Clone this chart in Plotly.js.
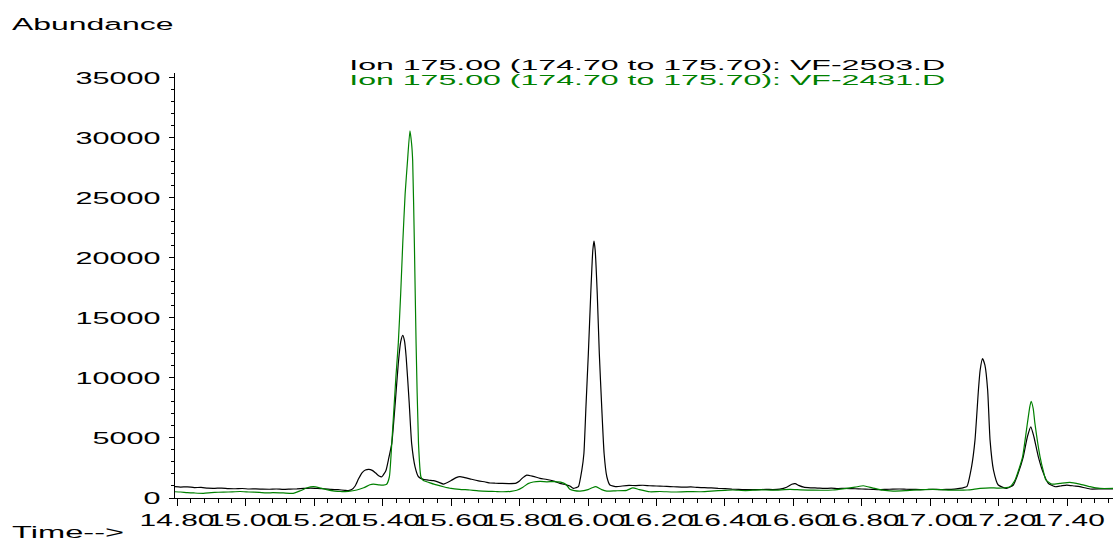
<!DOCTYPE html>
<html>
<head>
<meta charset="utf-8">
<script src="https://cdn.plot.ly/plotly-3.0.1.min.js"></script>
<style>
  html, body { margin: 0; padding: 0; background: #ffffff; }
  #chart { width: 1113px; height: 541px; }
</style>
</head>
<body>
<div id="chart"></div>
<script>
// Extracted ion chromatograms, m/z 175.00 (174.70 to 175.70)
const seriesNames = [
  'Ion 175.00 (174.70 to 175.70): VF-2503.D',
  'Ion 175.00 (174.70 to 175.70): VF-2431.D'
];

// VF-2503.D (black trace): retention time (min) and abundance
const timeBlack = [
  14.794, 14.81, 14.83, 14.85, 14.87, 14.89, 14.91, 14.93, 14.95, 14.97, 14.99,
  15.01, 15.03, 15.05, 15.07, 15.09, 15.11, 15.13, 15.15, 15.17, 15.19, 15.21,
  15.23, 15.25, 15.27, 15.29, 15.30, 15.31, 15.32, 15.33, 15.34, 15.35, 15.36,
  15.37, 15.38, 15.39, 15.398, 15.41, 15.417, 15.427, 15.437, 15.446, 15.453,
  15.459, 15.464, 15.469, 15.478, 15.485, 15.495, 15.505, 15.519, 15.535, 15.549,
  15.565, 15.578, 15.60, 15.615, 15.626, 15.64, 15.66, 15.68, 15.70, 15.714,
  15.73, 15.75, 15.77, 15.79, 15.80, 15.81, 15.821, 15.84, 15.86, 15.88, 15.90,
  15.918, 15.935, 15.947, 15.957, 15.965, 15.972, 15.982, 15.988, 15.994, 16.001,
  16.008, 16.014, 16.0175, 16.021, 16.027, 16.033, 16.040, 16.047, 16.055, 16.064,
  16.084, 16.10, 16.12, 16.14, 16.16, 16.18, 16.20, 16.22, 16.24, 16.26, 16.28,
  16.30, 16.32, 16.34, 16.36, 16.38, 16.40, 16.42, 16.44, 16.46, 16.48, 16.50,
  16.52, 16.54, 16.56, 16.58, 16.595, 16.605, 16.615, 16.63, 16.65, 16.67, 16.69,
  16.71, 16.73, 16.75, 16.77, 16.79, 16.81, 16.83, 16.85, 16.87, 16.89, 16.91,
  16.93, 16.95, 16.97, 16.99, 17.01, 17.03, 17.05, 17.07, 17.085, 17.095, 17.106,
  17.120, 17.130, 17.140, 17.145, 17.152, 17.159, 17.167, 17.174, 17.184, 17.198,
  17.222, 17.242, 17.256, 17.271, 17.283, 17.293, 17.302, 17.315, 17.330, 17.344,
  17.364, 17.38, 17.398, 17.42, 17.436, 17.466, 17.50, 17.533
];
const abundBlack = [
  950, 910, 930, 870, 880, 820, 810, 830, 780, 770, 790,
  750, 760, 740, 730, 750, 720, 740, 760, 800, 830, 790,
  770, 720, 690, 640, 620, 700, 1000, 1600, 2100, 2330, 2390,
  2300, 2080, 1830, 1770, 2300, 3160, 4550, 7870, 11200, 13000,
  13550, 13100, 11750, 7870, 4550, 2600, 1770, 1550, 1480, 1440,
  1300, 1160, 1450, 1700, 1780, 1700, 1560, 1430, 1330, 1250,
  1230, 1210, 1200, 1240, 1420, 1700, 1910, 1800, 1640, 1540, 1400,
  1220, 1100, 1000, 800, 860, 940, 2330, 3710, 7590, 12030,
  17020, 20620, 21390, 20620, 17020, 12030, 7590, 3710, 1770, 1080,
  940, 1000, 1050, 1030, 1060, 1020, 1000, 980, 950, 920, 900,
  920, 880, 860, 840, 800, 780, 740, 720, 700, 690, 700,
  720, 700, 740, 900, 1150, 1200, 1050, 900, 850, 830, 800,
  820, 790, 800, 780, 760, 740, 720, 700, 720, 740, 750,
  730, 720, 700, 710, 720, 700, 720, 740, 800, 850, 940,
  2600, 4820, 8980, 10640, 11610, 11060, 8980, 4820, 2330, 1080,
  800, 1080, 2050, 3430, 5100, 5930, 5100, 3430, 2050, 1220,
  940, 1000, 1080, 1000, 940, 750, 760, 750
];

// VF-2431.D (green trace): retention time (min) and abundance
const timeGreen = [
  14.794, 14.81, 14.83, 14.85, 14.877, 14.90, 14.92, 14.95, 14.984, 15.01, 15.04,
  15.06, 15.08, 15.11, 15.139, 15.16, 15.18, 15.198, 15.22, 15.237, 15.26, 15.276,
  15.30, 15.325, 15.345, 15.363, 15.373, 15.39, 15.402, 15.412, 15.420, 15.427,
  15.439, 15.446, 15.453, 15.459, 15.466, 15.473, 15.480, 15.485, 15.488, 15.493,
  15.498, 15.505, 15.512, 15.519, 15.535, 15.55, 15.578, 15.60, 15.625, 15.655,
  15.68, 15.71, 15.73, 15.752, 15.775, 15.792, 15.81, 15.825, 15.84, 15.86, 15.88,
  15.90, 15.92, 15.935, 15.947, 15.96, 15.977, 16.00, 16.012, 16.023, 16.04, 16.055,
  16.08, 16.113, 16.131, 16.15, 16.181, 16.21, 16.25, 16.29, 16.327, 16.36, 16.40,
  16.423, 16.46, 16.50, 16.54, 16.59, 16.62, 16.66, 16.715, 16.75, 16.78, 16.804,
  16.83, 16.86, 16.891, 16.93, 16.97, 17.007, 17.04, 17.07, 17.107, 17.145, 17.174,
  17.20, 17.232, 17.247, 17.259, 17.269, 17.283, 17.290, 17.294, 17.300, 17.305,
  17.320, 17.330, 17.337, 17.354, 17.378, 17.407, 17.436, 17.466, 17.495, 17.533
];
const abundGreen = [
  520, 500, 450, 420, 390, 450, 480, 500, 540, 500, 470,
  430, 440, 420, 390, 600, 850, 940, 820, 700, 580, 540,
  560, 665, 850, 1100, 1160, 1100, 1080, 1150, 1770, 4550,
  10080, 12860, 17020, 21170, 25330, 28100, 30590, 29480, 28100, 21170,
  12860, 4550, 1770, 1450, 1300, 1150, 940, 800, 720, 665,
  600, 560, 540, 520, 560, 650, 900, 1200, 1330, 1380, 1350,
  1370, 1320, 1150, 720, 620, 580, 700, 850, 940, 700, 580,
  600, 640, 850, 700, 520, 540, 500, 530, 520, 580, 640,
  665, 620, 680, 650, 720, 680, 650, 665, 780, 900, 1020,
  850, 650, 580, 620, 680, 720, 680, 650, 665, 800, 850,
  820, 940, 1500, 2470, 3430, 6210, 7590, 8060, 7450, 6210,
  3430, 2190, 1500, 1160, 1220, 1300, 1160, 940, 800, 800
];

// Axis ticks
const xTickValues = [14.8, 15.0, 15.2, 15.4, 15.6, 15.8, 16.0, 16.2, 16.4, 16.6, 16.8, 17.0, 17.2, 17.4];
const xTickLabels = ['14.80', '15.00', '15.20', '15.40', '15.60', '15.80', '16.00', '16.20', '16.40', '16.60', '16.80', '17.00', '17.20', '17.40'];
const yTickValues = [0, 5000, 10000, 15000, 20000, 25000, 30000, 35000];
const yTickLabels = ['0', '5000', '10000', '15000', '20000', '25000', '30000', '35000'];

const BLACK = '#000000';
const GREEN = '#008000';
const FONT = 'Liberation Sans, Arial, Helvetica, sans-serif';

const traces = [
  {
    x: timeBlack, y: abundBlack, name: seriesNames[0],
    type: 'scatter', mode: 'lines',
    line: { color: BLACK, width: 1.2, shape: 'spline', smoothing: 0.5 }
  },
  {
    x: timeGreen, y: abundGreen, name: seriesNames[1],
    type: 'scatter', mode: 'lines',
    line: { color: GREEN, width: 1.2, shape: 'spline', smoothing: 0.5 }
  }
];

const layout = {
  width: 1113,
  height: 541,
  margin: { l: 175, r: 0, t: 73, b: 43, pad: 0 },
  paper_bgcolor: '#ffffff',
  plot_bgcolor: '#ffffff',
  showlegend: false,
  font: { family: FONT, size: 17, color: BLACK },
  xaxis: {
    range: [14.794, 17.533],
    tickmode: 'array',
    tickvals: xTickValues,
    ticktext: xTickLabels,
    tickangle: 0,
    ticks: 'outside',
    ticklen: 7,
    tickwidth: 1,
    tickcolor: BLACK,
    tickfont: { family: FONT, size: 17, color: BLACK },
    minor: { dtick: 0.04, tick0: 14.8, ticks: 'outside', ticklen: 4, tickwidth: 1, tickcolor: BLACK, showgrid: false },
    showline: true,
    linecolor: BLACK,
    linewidth: 1,
    showgrid: false,
    zeroline: false,
    automargin: false
  },
  yaxis: {
    range: [0, 35400],
    tickmode: 'array',
    tickvals: yTickValues,
    ticktext: yTickLabels,
    ticks: 'outside',
    ticklen: 5,
    tickwidth: 1,
    tickcolor: BLACK,
    ticklabelstandoff: 5,
    tickfont: { family: FONT, size: 17, color: BLACK },
    minor: { dtick: 1000, tick0: 0, ticks: 'outside', ticklen: 3, tickwidth: 1, tickcolor: BLACK, showgrid: false },
    showline: true,
    linecolor: BLACK,
    linewidth: 1,
    showgrid: false,
    zeroline: false,
    automargin: false
  },
  annotations: [
    {
      text: 'Abundance', xref: 'paper', yref: 'paper',
      x: -0.176, y: 1.114, xanchor: 'left', yanchor: 'middle', align: 'left',
      showarrow: false, font: { family: FONT, size: 17, color: BLACK }
    },
    {
      text: 'Time-->', xref: 'paper', yref: 'paper',
      x: -0.176, y: -0.081, xanchor: 'left', yanchor: 'middle', align: 'left',
      showarrow: false, font: { family: FONT, size: 17, color: BLACK }
    },
    {
      text: seriesNames[0], xref: 'paper', yref: 'paper',
      x: 0.5032, y: 1.020, xanchor: 'center', yanchor: 'middle', align: 'center',
      showarrow: false, font: { family: FONT, size: 15, color: BLACK }
    },
    {
      text: seriesNames[1], xref: 'paper', yref: 'paper',
      x: 0.5032, y: 0.985, xanchor: 'center', yanchor: 'middle', align: 'center',
      showarrow: false, font: { family: FONT, size: 15, color: GREEN }
    }
  ]
};

// Horizontal widening of the lettering (wide instrument-report typeface)
const annotationStretch = [1.88, 1.92, 2.14, 2.14];
const xTickStretch = 1.76;
const yTickStretch = 1.8;

function widenText(el, k) {
  const bb = el.getBBox();
  const anchor = el.getAttribute('text-anchor') || window.getComputedStyle(el).textAnchor || 'start';
  let px = bb.x;
  if (anchor === 'middle') px = bb.x + bb.width / 2;
  else if (anchor === 'end') px = bb.x + bb.width;
  const base = el.getAttribute('transform') || '';
  el.setAttribute('transform',
    base + ' translate(' + px + ',0) scale(' + k + ',1) translate(' + (-px) + ',0)');
}

Plotly.newPlot('chart', traces, layout, { staticPlot: true, displayModeBar: false }).then(function (gd) {
  gd.querySelectorAll('.xtick text').forEach(function (el) { widenText(el, xTickStretch); });
  gd.querySelectorAll('.ytick text').forEach(function (el) { widenText(el, yTickStretch); });
  gd.querySelectorAll('g.annotation').forEach(function (g, i) {
    const idx = g.getAttribute('data-index') !== null ? +g.getAttribute('data-index') : i;
    const t = g.querySelector('text.annotation-text');
    if (t) widenText(t, annotationStretch[idx]);
  });
});
</script>
</body>
</html>
